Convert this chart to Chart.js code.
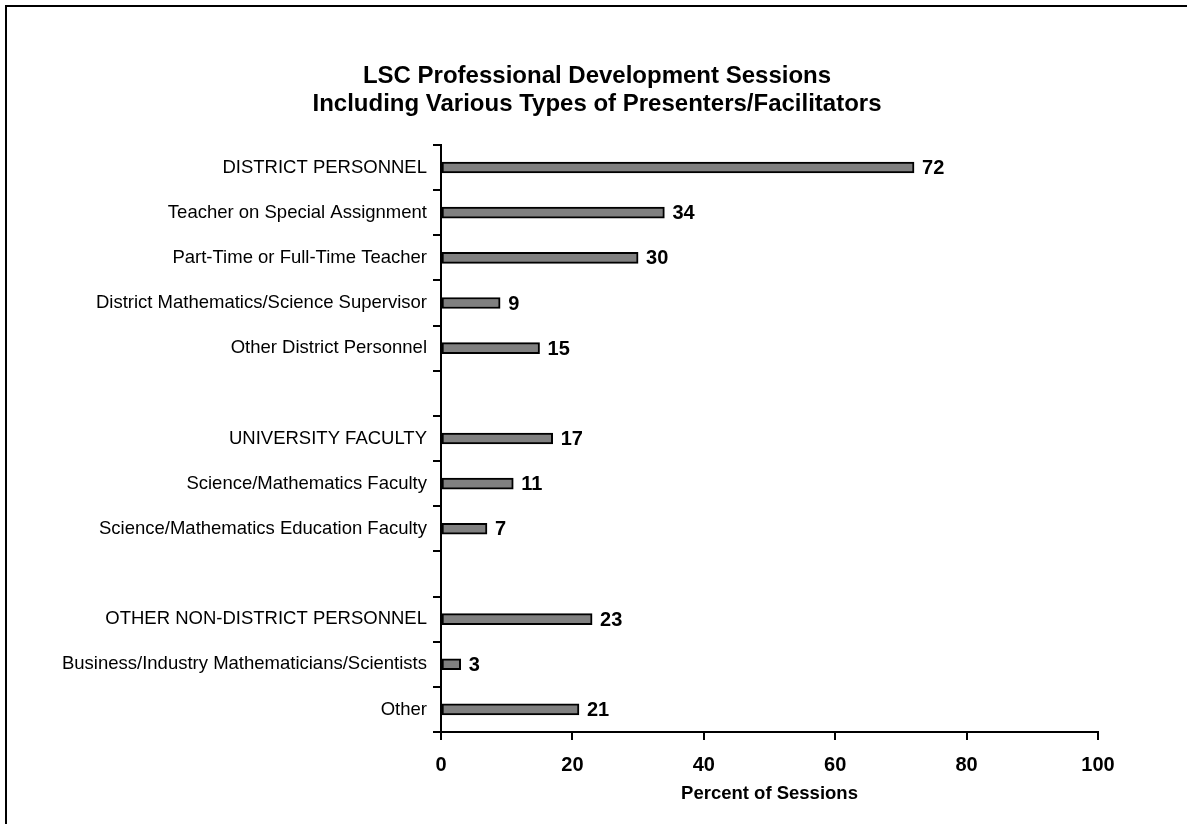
<!DOCTYPE html>
<html><head><meta charset="utf-8">
<script src="https://cdn.jsdelivr.net/npm/chart.js@4/dist/chart.umd.min.js"></script>
<style>
html,body{margin:0;padding:0;background:#fff;overflow:hidden;}
#wrap{position:relative;width:1187px;height:824px;overflow:hidden;}
#frame{position:absolute;left:5px;top:5px;width:2000px;height:2000px;border-left:2px solid #000;border-top:2px solid #000;}
canvas{position:absolute;left:0;top:0;}
</style></head><body>
<div id="wrap"><div id="frame"></div><canvas id="c" width="1187" height="824"></canvas></div>
<script>
const categories = [
  "DISTRICT PERSONNEL",
  "Teacher on Special Assignment",
  "Part-Time or Full-Time Teacher",
  "District Mathematics/Science Supervisor",
  "Other District Personnel",
  "",
  "UNIVERSITY FACULTY",
  "Science/Mathematics Faculty",
  "Science/Mathematics Education Faculty",
  "",
  "OTHER NON-DISTRICT PERSONNEL",
  "Business/Industry Mathematicians/Scientists",
  "Other"
];
const values = [72, 34, 30, 9, 15, null, 17, 11, 7, null, 23, 3, 21];
const xTicks = [0, 20, 40, 60, 80, 100];
const titleLines = ["LSC Professional Development Sessions", "Including Various Types of Presenters/Facilitators"];
const xTitle = "Percent of Sessions";

const FONT = '"Liberation Sans", Arial, Helvetica, sans-serif';

const valueLabels = {
  id: 'valueLabels',
  afterDatasetsDraw(chart) {
    const ctx = chart.ctx;
    const meta = chart.getDatasetMeta(0);
    ctx.save();
    ctx.font = 'bold 20px ' + FONT;
    ctx.fillStyle = '#000';
    ctx.textAlign = 'left';
    ctx.textBaseline = 'middle';
    meta.data.forEach((el, i) => {
      const v = values[i];
      if (v === null || v === undefined || !isFinite(el.x) || !isFinite(el.y)) return;
      ctx.fillText(String(v), el.x + 8, el.y + 1);
    });
    ctx.restore();
  }
};

new Chart(document.getElementById('c'), {
  type: 'bar',
  data: {
    labels: categories,
    datasets: [{
      data: values,
      backgroundColor: '#808080',
      borderColor: '#000',
      borderWidth: 2,
      borderSkipped: false,
      barThickness: 11
    }]
  },
  options: {
    indexAxis: 'y',
    responsive: false,
    animation: false,
    layout: { padding: { left: 40, right: 33, top: 0, bottom: 19 } },
    plugins: {
      legend: { display: false },
      tooltip: { enabled: false },
      title: {
        display: true,
        text: titleLines,
        color: '#000',
        font: { family: FONT, size: 24, weight: 'bold', lineHeight: 1.17 },
        padding: { top: 62, bottom: 26.8 }
      }
    },
    scales: {
      x: {
        type: 'linear',
        min: xTicks[0],
        max: xTicks[xTicks.length - 1],
        afterBuildTicks(s) { s.ticks = xTicks.map(v => ({ value: v })); },
        grid: { drawOnChartArea: false, drawTicks: true, tickLength: 8, color: '#000', lineWidth: 2 },
        border: { display: true, color: '#000', width: 2 },
        ticks: { color: '#000', font: { family: FONT, size: 20, weight: 'bold' }, padding: 13, maxRotation: 0 },
        title: { display: true, text: xTitle, color: '#000', font: { family: FONT, size: 18.5, weight: 'bold', lineHeight: 1.2 }, padding: { top: 0, bottom: 0 } },
        afterFit(s) { s.height = 73; }
      },
      y: {
        type: 'category',
        offset: true,
        grid: { offset: true, drawOnChartArea: false, drawTicks: true, tickLength: 8, color: '#000', lineWidth: 2 },
        border: { display: true, color: '#000', width: 2 },
        ticks: { color: '#000', font: { family: FONT, size: 18.5 }, padding: 6, autoSkip: false },
        afterFit(s) { s.width = 441 - 40; }
      },
      spacer: {
        type: 'linear',
        position: 'right',
        display: true,
        grid: { display: false, drawTicks: false },
        border: { display: false },
        ticks: { display: false },
        afterFit(s) { s.width = 1187 - 33 - 1098; }
      }
    }
  },
  plugins: [valueLabels]
});
</script>
</body></html>
